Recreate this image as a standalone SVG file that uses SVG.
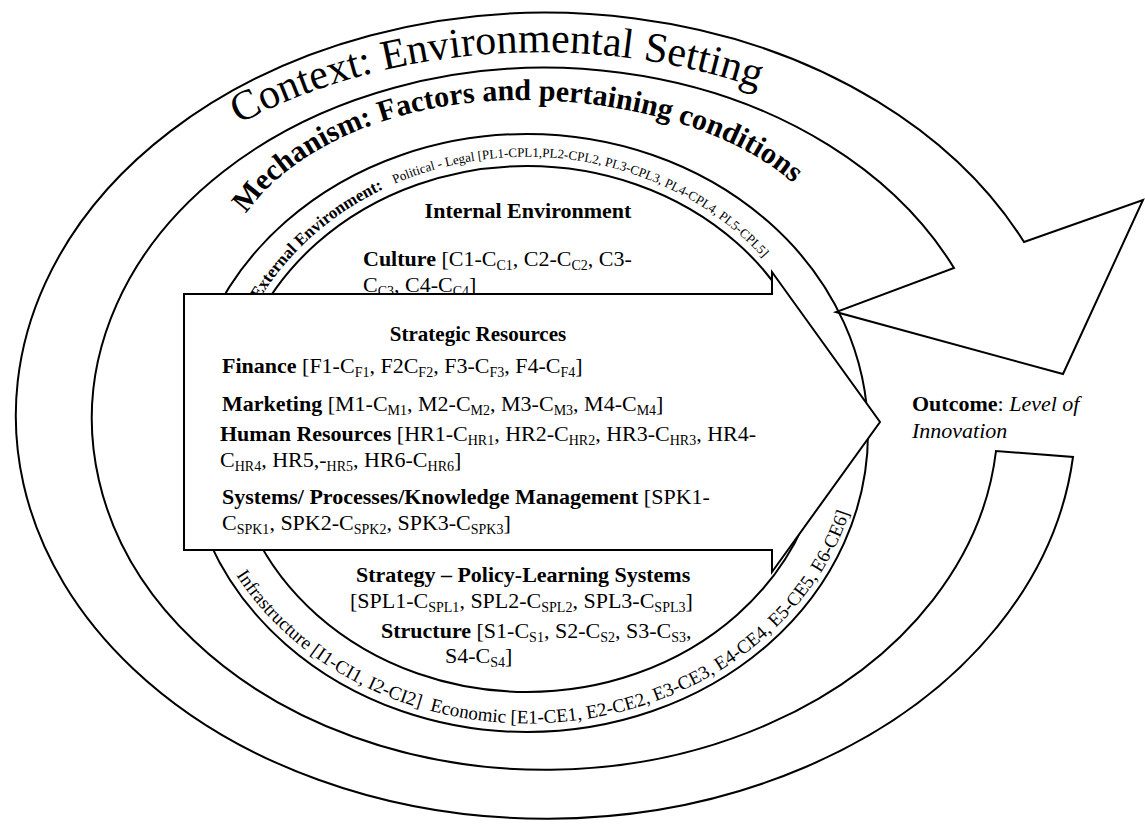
<svg xmlns="http://www.w3.org/2000/svg" width="1145" height="827" viewBox="0 0 1145 827">
  <style>
    .shape { fill: #fff; stroke: #000; stroke-width: 2; stroke-linejoin: miter; }
    .ring { fill: none; stroke: #000; stroke-width: 2; }
    text { font-family: "Liberation Serif", "Times New Roman", serif; fill: #000; }
    .b { font-weight: bold; }
    .i { font-style: italic; }
    .body { font-size: 22px; }
    .s { font-size: 14px; }
  </style>
  <defs>
    <!-- baselines for the curved labels -->
    <path id="pCtx" d="M239,124 A507,368 0 0,1 860,135"/>
    <path id="pMech" d="M246,214 A300,192 0 0,1 520,100 A320,174 0 0,1 830,231"/>
    <path id="pExt" d="M259,300 A305,275 0 0,1 818,350"/>
    <path id="pBot" d="M236,575 A335,292 0 0,0 862,450"/>
  </defs>

  <rect width="1145" height="827" fill="#fff"/>

  <!-- outer circular arrow: context band with its head at the upper right -->
  <g id="context">
    <path class="shape" d="M1073,457 A530,403 0 1,1 1024,242 L1143,200 L1063,374 L836,312 L954,268 A453,351 0 1,0 996,451 Z"/>
    <text font-size="42"><textPath href="#pCtx">Context: Environmental Setting</textPath></text>
  </g>

  <g id="mechanism">
    <text class="b" font-size="30"><textPath href="#pMech">Mechanism: Factors and pertaining conditions</textPath></text>
  </g>

  <g id="external-environment">
    <ellipse class="ring" cx="527" cy="433" rx="341" ry="299"/>
    <text><textPath href="#pExt"><tspan class="b" font-size="17">External Environment:</tspan><tspan font-size="13" dx="12">Political - Legal [PL1-CPL1,PL2-CPL2, PL3-CPL3, PL4-CPL4, PL5-CPL5]</tspan></textPath></text>
    <text font-size="19"><textPath href="#pBot">Infrastructure [I1-CI1, I2-CI2]<tspan dx="10">Economic [E1-CE1, E2-CE2, E3-CE3, E4-CE4, E5-CE5, E6-CE6]</tspan></textPath></text>
  </g>

  <g id="internal-environment">
    <ellipse class="ring" cx="527" cy="429" rx="297" ry="263"/>
    <text class="b" font-size="22" x="528" y="218" text-anchor="middle">Internal Environment</text>
    <text class="body" x="363" y="266"><tspan class="b">Culture</tspan> [C1-C<tspan class="s" dy="4">C1</tspan><tspan dy="-4">, C2-C</tspan><tspan class="s" dy="4">C2</tspan><tspan dy="-4">, C3-</tspan></text>
    <text class="body" x="363" y="292">C<tspan class="s" dy="4">C3</tspan><tspan dy="-4">, C4-C</tspan><tspan class="s" dy="4">C4</tspan><tspan dy="-4">]</tspan></text>
    <text class="body b" x="356" y="582">Strategy – Policy-Learning Systems</text>
    <text class="body" x="350" y="608">[SPL1-C<tspan class="s" dy="4">SPL1</tspan><tspan dy="-4">, SPL2-C</tspan><tspan class="s" dy="4">SPL2</tspan><tspan dy="-4">, SPL3-C</tspan><tspan class="s" dy="4">SPL3</tspan><tspan dy="-4">]</tspan></text>
    <text class="body" x="381" y="638"><tspan class="b">Structure</tspan> [S1-C<tspan class="s" dy="4">S1</tspan><tspan dy="-4">, S2-C</tspan><tspan class="s" dy="4">S2</tspan><tspan dy="-4">, S3-C</tspan><tspan class="s" dy="4">S3</tspan><tspan dy="-4">,</tspan></text>
    <text class="body" x="445" y="663">S4-C<tspan class="s" dy="4">S4</tspan><tspan dy="-4">]</tspan></text>
  </g>

  <!-- block arrow pointing to the outcome -->
  <g id="strategic-resources">
    <polygon class="shape" points="184,294 772,294 772,272 880,422 772,572 772,550 184,550"/>
    <text class="b" font-size="21" x="478" y="341" text-anchor="middle">Strategic Resources</text>
    <text class="body" x="222" y="373"><tspan class="b">Finance</tspan> [F1-C<tspan class="s" dy="4">F1</tspan><tspan dy="-4">, F2C</tspan><tspan class="s" dy="4">F2</tspan><tspan dy="-4">, F3-C</tspan><tspan class="s" dy="4">F3</tspan><tspan dy="-4">, F4-C</tspan><tspan class="s" dy="4">F4</tspan><tspan dy="-4">]</tspan></text>
    <text class="body" x="222" y="411"><tspan class="b">Marketing</tspan> [M1-C<tspan class="s" dy="4">M1</tspan><tspan dy="-4">, M2-C</tspan><tspan class="s" dy="4">M2</tspan><tspan dy="-4">, M3-C</tspan><tspan class="s" dy="4">M3</tspan><tspan dy="-4">, M4-C</tspan><tspan class="s" dy="4">M4</tspan><tspan dy="-4">]</tspan></text>
    <text class="body" x="220" y="441"><tspan class="b">Human Resources</tspan> [HR1-C<tspan class="s" dy="4">HR1</tspan><tspan dy="-4">, HR2-C</tspan><tspan class="s" dy="4">HR2</tspan><tspan dy="-4">, HR3-C</tspan><tspan class="s" dy="4">HR3</tspan><tspan dy="-4">, HR4-</tspan></text>
    <text class="body" x="220" y="467">C<tspan class="s" dy="4">HR4</tspan><tspan dy="-4">, HR5,-</tspan><tspan class="s" dy="4">HR5</tspan><tspan dy="-4">, HR6-C</tspan><tspan class="s" dy="4">HR6</tspan><tspan dy="-4">]</tspan></text>
    <text class="body" x="222" y="504"><tspan class="b">Systems/ Processes/Knowledge Management</tspan> [SPK1-</text>
    <text class="body" x="222" y="530">C<tspan class="s" dy="4">SPK1</tspan><tspan dy="-4">, SPK2-C</tspan><tspan class="s" dy="4">SPK2</tspan><tspan dy="-4">, SPK3-C</tspan><tspan class="s" dy="4">SPK3</tspan><tspan dy="-4">]</tspan></text>
  </g>

  <g id="outcome">
    <text class="body" x="912" y="411"><tspan class="b">Outcome</tspan>: <tspan class="i">Level of</tspan></text>
    <text class="body i" x="912" y="438">Innovation</text>
  </g>
</svg>
